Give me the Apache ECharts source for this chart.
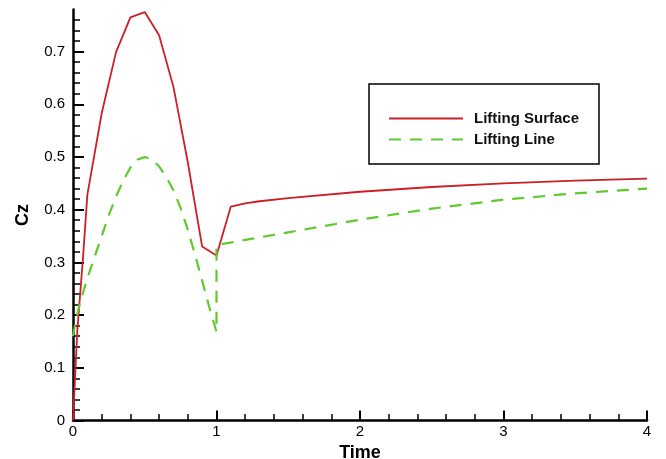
<!DOCTYPE html>
<html>
<head>
<meta charset="utf-8">
<script src="https://cdn.jsdelivr.net/npm/echarts@6/dist/echarts.min.js"></script>
<style>html,body{margin:0;padding:0;background:#fff}#c{width:666px;height:459px}</style>
</head>
<body>
<div id="c"></div>
<script>
var surfaceT = [0, 0.03, 0.07, 0.1, 0.2, 0.3, 0.4, 0.5, 0.6, 0.7, 0.8, 0.9, 1.0, 1.1, 1.2, 1.3, 1.5, 2.0, 2.5, 3.0, 3.5, 4.0];
var surfaceV = [0, 0.17, 0.31, 0.428, 0.583, 0.699, 0.765, 0.775, 0.731, 0.633, 0.49, 0.33, 0.313, 0.406, 0.412, 0.416, 0.422, 0.434, 0.443, 0.450, 0.455, 0.459];
var lineT = [0, 0.02, 0.05, 0.1, 0.15, 0.2, 0.25, 0.3, 0.35, 0.4, 0.45, 0.5, 0.55, 0.6, 0.65, 0.7, 0.75, 0.8, 0.85, 0.9, 0.95, 1.0, 1.0, 1.25, 1.5, 2.0, 2.5, 3.0, 3.5, 4.0];
var lineV = [0.16, 0.19, 0.225, 0.27, 0.31, 0.35, 0.39, 0.425, 0.455, 0.48, 0.495, 0.5, 0.495, 0.482, 0.462, 0.437, 0.403, 0.362, 0.315, 0.265, 0.215, 0.168, 0.333, 0.345, 0.357, 0.381, 0.402, 0.419, 0.431, 0.44];
var yMajorTicks = [0, 0.1, 0.2, 0.3, 0.4, 0.5, 0.6, 0.7];
var yMinorTicks = [0.02, 0.04, 0.06, 0.08, 0.12, 0.14, 0.16, 0.18, 0.22, 0.24, 0.26, 0.28, 0.32, 0.34, 0.36, 0.38, 0.42, 0.44, 0.46, 0.48, 0.52, 0.54, 0.56, 0.58, 0.62, 0.64, 0.66, 0.68, 0.72, 0.74, 0.76];
var seriesNames = ['Lifting Surface', 'Lifting Line'];

function pairs(t, v) { return t.map(function (x, i) { return [x, v[i]]; }); }

var font = 'Liberation Sans, Arial, Helvetica, sans-serif';
var chart = echarts.init(document.getElementById('c'), null, { renderer: 'canvas' });
chart.setOption({
  animation: false,
  backgroundColor: '#fff',
  grid: { left: 73, right: 19, top: 9.4, bottom: 38.5, containLabel: false, outerBoundsMode: 'none' },
  legend: {
    orient: 'vertical',
    left: 369, top: 84,
    padding: [27, 20, 17, 19],
    itemWidth: 74, itemHeight: 14, itemGap: 6,
    itemStyle: { opacity: 0 },
    borderColor: '#000', borderWidth: 1.5,
    backgroundColor: '#fff',
    textStyle: { fontFamily: font, fontWeight: 'bold', fontSize: 15, lineHeight: 14, color: '#111', padding: [0, 0, 0, 6] },
    data: seriesNames
  },
  xAxis: {
    type: 'value', min: 0, max: 4, interval: 1,
    name: 'Time', nameLocation: 'middle', nameGap: 19,
    nameTextStyle: { fontFamily: font, fontWeight: 'bold', fontSize: 18, color: '#000' },
    axisLine: { lineStyle: { color: '#000', width: 2.5 } },
    axisTick: { inside: true, length: 10, lineStyle: { color: '#000', width: 2 } },
    minorTick: { show: true, splitNumber: 5, length: 6.5, lineStyle: { color: '#000', width: 1.5 } },
    axisLabel: { fontFamily: font, fontSize: 15, color: '#000', margin: 4 },
    splitLine: { show: false }
  },
  yAxis: [{
    type: 'value', min: 0, max: 0.78, position: 'left',
    name: 'Cz', nameLocation: 'middle', nameGap: 41, nameRotate: 90,
    nameTextStyle: { fontFamily: font, fontWeight: 'bold', fontSize: 18, color: '#000' },
    axisLine: { lineStyle: { color: '#000', width: 2.5 } },
    axisTick: { inside: true, length: 11, customValues: yMajorTicks, lineStyle: { color: '#000', width: 2 } },
    axisLabel: { fontFamily: font, fontSize: 15, color: '#000', margin: 8, customValues: yMajorTicks },
    splitLine: { show: false }
  }, {
    type: 'value', min: 0, max: 0.78, position: 'left', offset: 0,
    axisLine: { show: false },
    axisTick: { inside: true, length: 7, customValues: yMinorTicks, lineStyle: { color: '#000', width: 1.5 } },
    axisLabel: { show: false },
    splitLine: { show: false }
  }],
  series: [{
    name: seriesNames[0], type: 'line', showSymbol: false, symbol: 'none',
    data: pairs(surfaceT, surfaceV),
    lineStyle: { color: '#cc1f27', width: 1.8 },
    itemStyle: { color: '#cc1f27' }
  }, {
    name: seriesNames[1], type: 'line', showSymbol: false, symbol: 'none',
    data: pairs(lineT, lineV),
    lineStyle: { color: '#5fc92e', width: 2.2, type: [12, 9] },
    itemStyle: { color: '#5fc92e' }
  }]
});
</script>
</body>
</html>
